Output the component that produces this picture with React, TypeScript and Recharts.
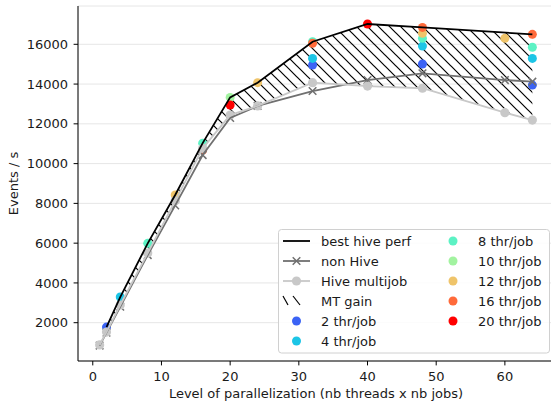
import React from 'react';
import {
  ComposedChart, Line, Area, XAxis, YAxis, CartesianGrid, Legend,
} from 'recharts';

// ---- data ----
const xLevels = [1, 2, 4, 8, 12, 16, 20, 24, 32, 40, 48, 60, 64];
const nonHive = [850, 1500, 2800, 5400, 7900, 10430, 12300, 12900, 13650, 14200, 14540, 14200, 14120];
const hiveMultijob = [880, 1530, 2890, 5500, 8130, 10770, 12440, 12900, 14070, 13900, 13790, 12560, 12190];

const bestX = [2, 4, 8, 12, 16, 20, 24, 32, 40, 48, 64];
const bestPerf = [1780, 3290, 5990, 8420, 11030, 13330, 14070, 16130, 17020, 16850, 16500];

const thr2X = [2, 32, 48, 64];
const thr2Y = [1780, 14960, 15010, 13950];
const thr4X = [4, 32, 48, 64];
const thr4Y = [3290, 15290, 15910, 15290];
const thr8X = [8, 16, 32, 48, 64];
const thr8Y = [5990, 11030, 16130, 16300, 15850];
const thr10X = [20];
const thr10Y = [13330];
const thr12X = [12, 24, 48, 60];
const thr12Y = [8420, 14070, 16550, 16300];
const thr16X = [16, 32, 48, 64];
const thr16Y = [10680, 16050, 16850, 16500];
const thr20X = [20, 40];
const thr20Y = [12950, 17020];

const xTicks = [0, 10, 20, 30, 40, 50, 60];
const yTicks = [2000, 4000, 6000, 8000, 10000, 12000, 14000, 16000];

const threadSeries = [
  { name: '2 thr/job', xs: thr2X, ys: thr2Y, color: '#3b63f5' },
  { name: '4 thr/job', xs: thr4X, ys: thr4Y, color: '#1cc5e6' },
  { name: '8 thr/job', xs: thr8X, ys: thr8Y, color: '#5cf2c4' },
  { name: '10 thr/job', xs: thr10X, ys: thr10Y, color: '#a2f3a0' },
  { name: '12 thr/job', xs: thr12X, ys: thr12Y, color: '#efc46a' },
  { name: '16 thr/job', xs: thr16X, ys: thr16Y, color: '#ff6a3a' },
  { name: '20 thr/job', xs: thr20X, ys: thr20Y, color: '#ff0000' },
];

// ---- derived tables ----
const nonHiveData = xLevels.map((x, i) => ({ x, y: nonHive[i] }));
const multijobData = xLevels.map((x, i) => ({ x, y: hiveMultijob[i] }));
const bestData = bestX.map((x, i) => ({ x, y: bestPerf[i] }));
const gainData = bestX.map((x, i) => ({
  x,
  range: [hiveMultijob[xLevels.indexOf(x)], bestPerf[i]],
}));

const FONT = 'DejaVu Sans, sans-serif';
const FS = 13;
const NONHIVE_COLOR = '#707070';
const MULTI_COLOR = '#c8c8c8';

const Cross = (props: any) => {
  const { cx, cy } = props;
  if (cx == null || cy == null) return null;
  const s = 3.8;
  return (
    <g>
      <line x1={cx - s} y1={cy - s} x2={cx + s} y2={cy + s} stroke={NONHIVE_COLOR} strokeWidth={1.5} />
      <line x1={cx - s} y1={cy + s} x2={cx + s} y2={cy - s} stroke={NONHIVE_COLOR} strokeWidth={1.5} />
    </g>
  );
};

const GrayDot = (props: any) => {
  const { cx, cy } = props;
  if (cx == null || cy == null) return null;
  return <circle cx={cx} cy={cy} r={4.6} fill={MULTI_COLOR} />;
};

const makeDot = (color: string) => (props: any) => {
  const { cx, cy, index } = props;
  if (cx == null || cy == null) return null;
  return <circle key={index} cx={cx} cy={cy} r={4.5} fill={color} />;
};

const LegendBox = () => {
  const rows = [12, 32, 52, 72, 92, 112];
  const textStyle = { fontFamily: FONT, fontSize: FS, fill: '#1a1a1a' };
  const col1: any[] = [
    { name: 'best hive perf', kind: 'best' },
    { name: 'non Hive', kind: 'nonhive' },
    { name: 'Hive multijob', kind: 'multi' },
    { name: 'MT gain', kind: 'hatch' },
    { name: threadSeries[0].name, kind: 'dot', color: threadSeries[0].color },
    { name: threadSeries[1].name, kind: 'dot', color: threadSeries[1].color },
  ];
  const col2 = threadSeries.slice(2);
  return (
    <svg width={272} height={125} style={{ display: 'block' }}>
      <rect x={0.5} y={0.5} width={271} height={123.5} rx={3} ry={3} fill="rgba(255,255,255,0.85)" stroke="#d0d0d0" strokeWidth={1} />
      {col1.map((it, i) => {
        const y = rows[i];
        let handle: any = null;
        if (it.kind === 'best') handle = <line x1={5} x2={32} y1={y} y2={y} stroke="#000" strokeWidth={1.8} />;
        if (it.kind === 'nonhive') handle = (
          <g>
            <line x1={5} x2={32} y1={y} y2={y} stroke={NONHIVE_COLOR} strokeWidth={1.8} />
            <Cross cx={18.5} cy={y} />
          </g>
        );
        if (it.kind === 'multi') handle = (
          <g>
            <line x1={5} x2={32} y1={y} y2={y} stroke={MULTI_COLOR} strokeWidth={1.8} />
            <circle cx={18.5} cy={y} r={4.6} fill={MULTI_COLOR} />
          </g>
        );
        if (it.kind === 'hatch') handle = (
          <g stroke="#000" strokeWidth={1.2}>
            <line x1={5} y1={y - 5} x2={10} y2={y + 4} />
            <line x1={15} y1={y - 5} x2={22} y2={y + 4} />
          </g>
        );
        if (it.kind === 'dot') handle = <circle cx={18.5} cy={y} r={4.5} fill={it.color} />;
        return (
          <g key={it.name}>
            {handle}
            <text x={43} y={y} dominantBaseline="central" style={textStyle}>{it.name}</text>
          </g>
        );
      })}
      {col2.map((s, i) => (
        <g key={s.name}>
          <circle cx={175} cy={rows[i]} r={4.5} fill={s.color} />
          <text x={200} y={rows[i]} dominantBaseline="central" style={textStyle}>{s.name}</text>
        </g>
      ))}
    </svg>
  );
};

export default function App() {
  const tickStyle = { fontFamily: FONT, fontSize: FS, fill: '#1a1a1a' };
  const highZ: any = { zIndex: 700 };
  return (
    <div style={{ position: 'absolute', left: 0, top: 0, width: 551, height: 402, overflow: 'hidden', background: '#fff' }}>
      <ComposedChart width={560} height={402} margin={{ top: 6, right: 6, left: 0, bottom: 0 }}>
        <defs>
          <pattern id="hatch" patternUnits="userSpaceOnUse" width={11} height={11}>
            <path d="M0,0 L11,11 M-2,9 L2,13 M9,-2 L13,2" stroke="#000" strokeWidth={1.2} />
          </pattern>
        </defs>
        <CartesianGrid stroke="#e6e6e6" strokeWidth={1} />
        <XAxis
          xAxisId="main"
          dataKey="x"
          type="number"
          domain={[-2.15, 67.15]}
          ticks={xTicks}
          allowDataOverflow
          height={41}
          tickSize={4.4}
          tickMargin={6.5}
          stroke="#000"
          tick={tickStyle}
          label={{ value: 'Level of parallelization (nb threads x nb jobs)', position: 'insideBottom', offset: 4, style: { fontFamily: FONT, fontSize: FS, fill: '#1a1a1a' } }}
        />
        <XAxis xAxisId="top" orientation="top" type="number" domain={[-2.15, 67.15]} height={0} tick={false} tickLine={false} stroke="#000" />
        <YAxis
          dataKey="y"
          type="number"
          domain={[74, 17926]}
          ticks={yTicks}
          allowDataOverflow
          width={78}
          tickSize={4.4}
          tickMargin={5.5}
          stroke="#000"
          tick={tickStyle}
          label={{ value: 'Events / s', angle: -90, position: 'insideLeft', offset: 13, style: { textAnchor: 'middle', fontFamily: FONT, fontSize: FS, fill: '#1a1a1a' } }}
        />
        <Legend
          layout="horizontal"
          verticalAlign="middle"
          align="center"
          wrapperStyle={{ position: 'absolute', left: 278, top: 229, width: 272, height: 125 }}
          content={() => <LegendBox />}
        />
        <Area
          xAxisId="main"
          data={gainData}
          dataKey="range"
          type="linear"
          stroke="none"
          fill="url(#hatch)"
          fillOpacity={1}
          isAnimationActive={false}
          connectNulls
        />
        {threadSeries.map((s) => (
          <Line
            key={s.name}
            xAxisId="main"
            name={s.name}
            data={s.xs.map((x, i) => ({ x, y: s.ys[i] }))}
            dataKey="y"
            stroke="none"
            strokeWidth={0}
            dot={makeDot(s.color)}
            activeDot={false}
            isAnimationActive={false}
          />
        ))}
        <Line xAxisId="main" data={bestData} dataKey="y" type="linear" stroke="#000" strokeWidth={1.8} dot={false} activeDot={false} isAnimationActive={false} {...highZ} />
        <Line xAxisId="main" data={nonHiveData} dataKey="y" type="linear" stroke={NONHIVE_COLOR} strokeWidth={1.8} dot={<Cross />} activeDot={false} isAnimationActive={false} {...highZ} />
        <Line xAxisId="main" data={multijobData} dataKey="y" type="linear" stroke={MULTI_COLOR} strokeWidth={1.8} dot={<GrayDot />} activeDot={false} isAnimationActive={false} {...highZ} />
      </ComposedChart>
    </div>
  );
}
